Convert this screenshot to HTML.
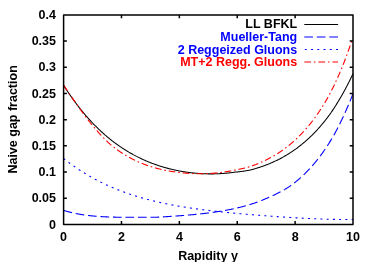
<!DOCTYPE html>
<html><head><meta charset="utf-8"><style>
html,body{margin:0;padding:0;background:#fff;}
svg{display:block;will-change:transform;}
text{font-family:"Liberation Sans",sans-serif;font-weight:bold;font-size:12.5px;fill:#000;}
</style></head><body>
<svg width="374" height="262" viewBox="0 0 374 262">
<rect width="374" height="262" fill="#fff"/>
<g fill="none" stroke-width="1.1">
<path d="M63.60,85.34 L64.08,86.10 L64.57,86.85 L65.05,87.60 L65.53,88.35 L66.02,89.09 L66.50,89.82 L66.98,90.55 L67.47,91.28 L67.95,92.00 L68.43,92.72 L68.91,93.43 L69.40,94.14 L69.88,94.84 L70.36,95.53 L70.85,96.23 L71.33,96.92 L71.81,97.60 L72.30,98.28 L72.78,98.95 L73.26,99.62 L73.75,100.29 L74.23,100.95 L74.71,101.61 L75.20,102.26 L75.68,102.91 L76.16,103.55 L76.64,104.19 L77.13,104.83 L77.61,105.46 L78.09,106.08 L78.58,106.71 L79.06,107.33 L79.54,107.94 L80.03,108.55 L80.51,109.16 L80.99,109.76 L81.48,110.35 L81.96,110.95 L82.44,111.54 L82.93,112.12 L83.41,112.70 L83.89,113.28 L84.37,113.85 L84.86,114.42 L85.34,114.99 L85.82,115.55 L86.31,116.11 L86.79,116.66 L87.27,117.21 L87.76,117.76 L88.24,118.30 L88.72,118.84 L89.21,119.37 L89.69,119.90 L90.17,120.43 L90.66,120.95 L91.14,121.47 L91.62,121.99 L92.11,122.50 L92.59,123.01 L93.07,123.52 L93.55,124.02 L94.04,124.52 L94.52,125.01 L95.00,125.50 L95.49,125.99 L95.97,126.47 L96.45,126.95 L96.94,127.43 L97.42,127.90 L97.90,128.37 L98.39,128.84 L98.87,129.30 L99.35,129.76 L99.84,130.22 L100.32,130.67 L100.80,131.12 L101.28,131.57 L101.77,132.01 L102.25,132.45 L102.73,132.89 L103.22,133.32 L103.70,133.75 L104.18,134.18 L104.67,134.60 L105.15,135.03 L105.63,135.44 L106.12,135.86 L106.60,136.27 L107.08,136.68 L107.57,137.08 L108.05,137.49 L108.53,137.88 L109.02,138.28 L109.50,138.67 L109.98,139.06 L110.46,139.45 L110.95,139.84 L111.43,140.22 L111.91,140.60 L112.40,140.97 L112.88,141.34 L113.36,141.71 L113.85,142.08 L114.33,142.45 L114.81,142.81 L115.30,143.17 L115.78,143.52 L116.26,143.87 L116.75,144.22 L117.23,144.57 L117.71,144.92 L118.19,145.26 L118.68,145.60 L119.16,145.94 L119.64,146.27 L120.13,146.60 L120.61,146.93 L121.09,147.26 L121.58,147.58 L122.06,147.90 L122.54,148.22 L123.03,148.53 L123.51,148.85 L123.99,149.16 L124.48,149.47 L124.96,149.77 L125.44,150.07 L125.92,150.37 L126.41,150.67 L126.89,150.97 L127.37,151.26 L127.86,151.55 L128.34,151.84 L128.82,152.13 L129.31,152.41 L129.79,152.69 L130.27,152.97 L130.76,153.25 L131.24,153.52 L131.72,153.79 L132.21,154.06 L132.69,154.33 L133.17,154.60 L133.66,154.86 L134.14,155.12 L134.62,155.38 L135.10,155.63 L135.59,155.89 L136.07,156.14 L136.55,156.39 L137.04,156.63 L137.52,156.88 L138.00,157.12 L138.49,157.36 L138.97,157.60 L139.45,157.84 L139.94,158.07 L140.42,158.30 L140.90,158.53 L141.39,158.76 L141.87,158.99 L142.35,159.21 L142.83,159.43 L143.32,159.65 L143.80,159.87 L144.28,160.09 L144.77,160.30 L145.25,160.51 L145.73,160.72 L146.22,160.93 L146.70,161.13 L147.18,161.34 L147.67,161.54 L148.15,161.74 L148.63,161.94 L149.12,162.13 L149.60,162.33 L150.08,162.52 L150.56,162.71 L151.05,162.90 L151.53,163.08 L152.01,163.27 L152.50,163.45 L152.98,163.63 L153.46,163.81 L153.95,163.99 L154.43,164.17 L154.91,164.34 L155.40,164.51 L155.88,164.68 L156.36,164.85 L156.85,165.02 L157.33,165.18 L157.81,165.34 L158.30,165.51 L158.78,165.66 L159.26,165.82 L159.74,165.98 L160.23,166.13 L160.71,166.29 L161.19,166.44 L161.68,166.59 L162.16,166.73 L162.64,166.88 L163.13,167.02 L163.61,167.17 L164.09,167.31 L164.58,167.45 L165.06,167.58 L165.54,167.72 L166.03,167.85 L166.51,167.99 L166.99,168.12 L167.47,168.25 L167.96,168.37 L168.44,168.50 L168.92,168.63 L169.41,168.75 L169.89,168.87 L170.37,168.99 L170.86,169.11 L171.34,169.23 L171.82,169.34 L172.31,169.45 L172.79,169.57 L173.27,169.68 L173.76,169.79 L174.24,169.89 L174.72,170.00 L175.21,170.10 L175.69,170.21 L176.17,170.31 L176.65,170.41 L177.14,170.51 L177.62,170.60 L178.10,170.70 L178.59,170.79 L179.07,170.89 L179.55,170.98 L180.04,171.07 L180.52,171.16 L181.00,171.24 L181.49,171.33 L181.97,171.41 L182.45,171.49 L182.94,171.57 L183.42,171.65 L183.90,171.73 L184.38,171.81 L184.87,171.88 L185.35,171.96 L185.83,172.03 L186.32,172.10 L186.80,172.17 L187.28,172.24 L187.77,172.30 L188.25,172.37 L188.73,172.43 L189.22,172.50 L189.70,172.56 L190.18,172.62 L190.67,172.68 L191.15,172.73 L191.63,172.79 L192.11,172.84 L192.60,172.89 L193.08,172.95 L193.56,173.00 L194.05,173.04 L194.53,173.09 L195.01,173.14 L195.50,173.18 L195.98,173.22 L196.46,173.27 L196.95,173.31 L197.43,173.35 L197.91,173.38 L198.40,173.42 L198.88,173.45 L199.36,173.49 L199.85,173.52 L200.33,173.55 L200.81,173.58 L201.29,173.61 L201.78,173.63 L202.26,173.66 L202.74,173.68 L203.23,173.71 L203.71,173.73 L204.19,173.75 L204.68,173.77 L205.16,173.78 L205.64,173.80 L206.13,173.81 L206.61,173.83 L207.09,173.84 L207.58,173.85 L208.06,173.86 L208.54,173.86 L209.02,173.87 L209.51,173.88 L209.99,173.88 L210.47,173.88 L210.96,173.88 L211.44,173.88 L211.92,173.88 L212.41,173.88 L212.89,173.87 L213.37,173.87 L213.86,173.86 L214.34,173.85 L214.82,173.84 L215.31,173.83 L215.79,173.82 L216.27,173.80 L216.75,173.79 L217.24,173.77 L217.72,173.75 L218.20,173.73 L218.69,173.71 L219.17,173.69 L219.65,173.66 L220.14,173.64 L220.62,173.61 L221.10,173.58 L221.59,173.55 L222.07,173.52 L222.55,173.49 L223.04,173.45 L223.52,173.42 L224.00,173.38 L224.49,173.34 L224.97,173.30 L225.45,173.26 L225.93,173.22 L226.42,173.18 L226.90,173.13 L227.38,173.09 L227.87,173.04 L228.35,172.99 L228.83,172.94 L229.32,172.88 L229.80,172.83 L230.28,172.77 L230.77,172.72 L231.25,172.66 L231.73,172.60 L232.22,172.54 L232.70,172.47 L233.18,172.41 L233.66,172.34 L234.15,172.28 L234.63,172.21 L235.11,172.14 L235.60,172.10 L236.08,172.06 L236.56,172.01 L237.05,171.96 L237.53,171.91 L238.01,171.86 L238.50,171.81 L238.98,171.76 L239.46,171.70 L239.95,171.64 L240.43,171.58 L240.91,171.52 L241.39,171.46 L241.88,171.40 L242.36,171.33 L242.84,171.27 L243.33,171.20 L243.81,171.13 L244.29,171.06 L244.78,170.98 L245.26,170.91 L245.74,170.83 L246.23,170.75 L246.71,170.67 L247.19,170.59 L247.68,170.51 L248.16,170.42 L248.64,170.34 L249.13,170.25 L249.61,170.16 L250.09,170.06 L250.57,169.94 L251.06,169.81 L251.54,169.69 L252.02,169.56 L252.51,169.43 L252.99,169.29 L253.47,169.16 L253.96,169.02 L254.44,168.89 L254.92,168.75 L255.41,168.61 L255.89,168.46 L256.37,168.32 L256.86,168.17 L257.34,168.02 L257.82,167.87 L258.30,167.72 L258.79,167.56 L259.27,167.41 L259.75,167.25 L260.24,167.09 L260.72,166.93 L261.20,166.76 L261.69,166.60 L262.17,166.43 L262.65,166.26 L263.14,166.09 L263.62,165.91 L264.10,165.74 L264.59,165.56 L265.07,165.38 L265.55,165.20 L266.04,165.01 L266.52,164.83 L267.00,164.64 L267.48,164.45 L267.97,164.26 L268.45,164.06 L268.93,163.87 L269.42,163.67 L269.90,163.46 L270.38,163.26 L270.87,163.06 L271.35,162.85 L271.83,162.64 L272.32,162.42 L272.80,162.21 L273.28,161.99 L273.77,161.77 L274.25,161.55 L274.73,161.33 L275.21,161.10 L275.70,160.87 L276.18,160.64 L276.66,160.41 L277.15,160.17 L277.63,159.93 L278.11,159.69 L278.60,159.45 L279.08,159.20 L279.56,158.95 L280.05,158.70 L280.53,158.44 L281.01,158.19 L281.50,157.93 L281.98,157.67 L282.46,157.40 L282.94,157.13 L283.43,156.86 L283.91,156.59 L284.39,156.32 L284.88,156.04 L285.36,155.76 L285.84,155.47 L286.33,155.18 L286.81,154.90 L287.29,154.60 L287.78,154.31 L288.26,154.01 L288.74,153.71 L289.23,153.40 L289.71,153.09 L290.19,152.78 L290.68,152.47 L291.16,152.15 L291.64,151.83 L292.12,151.51 L292.61,151.18 L293.09,150.85 L293.57,150.52 L294.06,150.18 L294.54,149.84 L295.02,149.50 L295.51,149.16 L295.99,148.81 L296.47,148.45 L296.96,148.10 L297.44,147.74 L297.92,147.37 L298.41,147.01 L298.89,146.64 L299.37,146.26 L299.85,145.89 L300.34,145.51 L300.82,145.13 L301.30,144.74 L301.79,144.36 L302.27,143.96 L302.75,143.57 L303.24,143.17 L303.72,142.77 L304.20,142.36 L304.69,141.95 L305.17,141.53 L305.65,141.11 L306.14,140.69 L306.62,140.27 L307.10,139.83 L307.58,139.40 L308.07,138.96 L308.55,138.52 L309.03,138.07 L309.52,137.62 L310.00,137.16 L310.48,136.70 L310.97,136.24 L311.45,135.77 L311.93,135.30 L312.42,134.82 L312.90,134.34 L313.38,133.85 L313.87,133.36 L314.35,132.86 L314.83,132.36 L315.32,131.86 L315.80,131.35 L316.28,130.83 L316.76,130.31 L317.25,129.79 L317.73,129.26 L318.21,128.73 L318.70,128.19 L319.18,127.65 L319.66,127.10 L320.15,126.54 L320.63,125.99 L321.11,125.42 L321.60,124.85 L322.08,124.28 L322.56,123.70 L323.05,123.12 L323.53,122.53 L324.01,121.93 L324.49,121.33 L324.98,120.73 L325.46,120.12 L325.94,119.50 L326.43,118.88 L326.91,118.25 L327.39,117.62 L327.88,116.98 L328.36,116.33 L328.84,115.68 L329.33,115.03 L329.81,114.36 L330.29,113.68 L330.78,112.99 L331.26,112.28 L331.74,111.58 L332.23,110.86 L332.71,110.14 L333.19,109.41 L333.67,108.68 L334.16,107.94 L334.64,107.20 L335.12,106.45 L335.61,105.69 L336.09,104.92 L336.57,104.15 L337.06,103.38 L337.54,102.59 L338.02,101.80 L338.51,101.01 L338.99,100.20 L339.47,99.39 L339.96,98.58 L340.44,97.75 L340.92,96.92 L341.40,96.08 L341.89,95.24 L342.37,94.39 L342.85,93.53 L343.34,92.66 L343.82,91.79 L344.30,90.91 L344.79,90.02 L345.27,89.13 L345.75,88.22 L346.24,87.31 L346.72,86.38 L347.20,85.46 L347.69,84.52 L348.17,83.58 L348.65,82.62 L349.13,81.66 L349.62,80.70 L350.10,79.72 L350.58,78.74 L351.07,77.75 L351.55,76.75 L352.03,75.74 L352.52,74.73 L353.00,73.71" stroke="#000" stroke-width="1.05"/>
<path d="M63.60,210.33 L64.08,210.48 L64.57,210.62 L65.05,210.77 L65.53,210.91 L66.02,211.05 L66.50,211.19 L66.98,211.33 L67.47,211.46 L67.95,211.60 L68.43,211.73 L68.91,211.86 L69.40,211.98 L69.88,212.11 L70.36,212.23 L70.85,212.35 L71.33,212.47 L71.81,212.59 L71.99,212.63 M75.69,213.47 L76.16,213.57 L76.64,213.67 L77.13,213.77 L77.61,213.87 L78.09,213.96 L78.58,214.05 L79.06,214.15 L79.54,214.24 L80.03,214.33 L80.51,214.40 L80.99,214.48 L81.48,214.56 L81.96,214.64 L82.44,214.71 L82.93,214.78 L83.41,214.85 L83.89,214.92 L84.26,214.97 M88.03,215.46 L88.24,215.48 L88.72,215.54 L89.21,215.59 L89.69,215.65 L90.17,215.70 L90.66,215.75 L91.14,215.80 L91.62,215.84 L92.11,215.89 L92.59,215.94 L93.07,215.98 L93.55,216.02 L94.04,216.07 L94.52,216.11 L95.00,216.15 L95.49,216.19 L95.97,216.22 L96.45,216.26 L96.69,216.28 M100.48,216.53 L100.80,216.55 L101.28,216.58 L101.77,216.62 L102.25,216.65 L102.73,216.68 L103.22,216.71 L103.70,216.74 L104.18,216.76 L104.67,216.79 L105.15,216.82 L105.63,216.84 L106.12,216.87 L106.60,216.89 L107.08,216.91 L107.57,216.93 L108.05,216.95 L108.53,216.97 L109.02,216.99 L109.17,217.00 M112.97,217.12 L113.36,217.13 L113.85,217.14 L114.33,217.15 L114.81,217.16 L115.30,217.17 L115.78,217.18 L116.26,217.19 L116.75,217.19 L117.23,217.20 L117.71,217.21 L118.19,217.21 L118.68,217.22 L119.16,217.22 L119.64,217.23 L120.13,217.23 L120.61,217.23 L121.09,217.23 L121.58,217.23 L121.67,217.23 M125.47,217.23 L125.92,217.24 L126.41,217.25 L126.89,217.25 L127.37,217.26 L127.86,217.26 L128.34,217.26 L128.82,217.27 L129.31,217.27 L129.79,217.27 L130.27,217.27 L130.76,217.28 L131.24,217.28 L131.72,217.28 L132.21,217.28 L132.69,217.28 L133.17,217.28 L133.66,217.28 L134.14,217.27 L134.17,217.27 M137.96,217.25 L138.00,217.25 L138.49,217.25 L138.97,217.24 L139.45,217.24 L139.94,217.23 L140.42,217.24 L140.90,217.24 L141.39,217.25 L141.87,217.25 L142.35,217.26 L142.83,217.26 L143.32,217.27 L143.80,217.27 L144.28,217.28 L144.77,217.28 L145.25,217.29 L145.73,217.29 L146.22,217.29 L146.66,217.30 M150.46,217.31 L150.56,217.31 L151.05,217.31 L151.53,217.31 L152.01,217.31 L152.50,217.31 L152.98,217.31 L153.46,217.31 L153.95,217.31 L154.43,217.31 L154.91,217.31 L155.40,217.29 L155.88,217.26 L156.36,217.24 L156.85,217.21 L157.33,217.19 L157.81,217.16 L158.30,217.13 L158.78,217.11 L159.16,217.09 M162.95,216.87 L163.13,216.86 L163.61,216.83 L164.09,216.80 L164.58,216.77 L165.06,216.74 L165.54,216.71 L166.03,216.68 L166.51,216.65 L166.99,216.62 L167.47,216.59 L167.96,216.56 L168.44,216.53 L168.92,216.50 L169.41,216.47 L169.89,216.44 L170.37,216.40 L170.86,216.37 L171.34,216.34 L171.64,216.32 M175.43,216.06 L175.69,216.04 L176.17,216.01 L176.65,215.97 L177.14,215.94 L177.62,215.90 L178.10,215.87 L178.59,215.83 L179.07,215.80 L179.55,215.76 L180.04,215.72 L180.52,215.69 L181.00,215.65 L181.49,215.61 L181.97,215.58 L182.45,215.54 L182.94,215.50 L183.42,215.46 L183.90,215.42 L184.10,215.41 M187.89,215.10 L188.25,215.07 L188.73,215.02 L189.22,214.98 L189.70,214.94 L190.18,214.90 L190.67,214.86 L191.15,214.81 L191.63,214.77 L192.11,214.73 L192.60,214.68 L193.08,214.64 L193.56,214.59 L194.05,214.55 L194.53,214.50 L195.01,214.46 L195.50,214.41 L195.98,214.36 L196.46,214.32 L196.55,214.31 M200.33,213.92 L200.81,213.87 L201.29,213.82 L201.78,213.76 L202.26,213.71 L202.74,213.65 L203.23,213.60 L203.71,213.54 L204.19,213.48 L204.68,213.42 L205.16,213.37 L205.64,213.31 L206.13,213.25 L206.61,213.19 L207.09,213.13 L207.58,213.07 L208.06,213.01 L208.54,212.95 L208.97,212.89 M212.74,212.38 L212.89,212.36 L213.37,212.29 L213.86,212.23 L214.34,212.16 L214.82,212.09 L215.31,212.02 L215.79,211.95 L216.27,211.87 L216.75,211.80 L217.24,211.73 L217.72,211.65 L218.20,211.58 L218.69,211.50 L219.17,211.43 L219.65,211.35 L220.14,211.27 L220.62,211.19 L221.10,211.12 L221.34,211.08 M225.08,210.43 L225.45,210.36 L225.93,210.28 L226.42,210.19 L226.90,210.10 L227.38,210.01 L227.87,209.92 L228.35,209.82 L228.83,209.73 L229.32,209.64 L229.80,209.54 L230.28,209.44 L230.77,209.35 L231.25,209.25 L231.73,209.15 L232.22,209.05 L232.70,208.95 L233.18,208.85 L233.62,208.75 M237.33,207.92 L237.53,207.87 L238.01,207.76 L238.50,207.64 L238.98,207.53 L239.46,207.41 L239.95,207.29 L240.43,207.17 L240.91,207.05 L241.39,206.93 L241.88,206.80 L242.36,206.68 L242.84,206.55 L243.33,206.42 L243.81,206.29 L244.29,206.16 L244.78,206.03 L245.26,205.90 L245.74,205.76 L245.75,205.76 M249.40,204.69 L249.61,204.63 L250.09,204.48 L250.57,204.33 L251.06,204.18 L251.54,204.03 L252.02,203.87 L252.51,203.71 L252.99,203.56 L253.47,203.40 L253.96,203.24 L254.44,203.07 L254.92,202.91 L255.41,202.74 L255.89,202.57 L256.37,202.40 L256.86,202.23 L257.34,202.06 L257.65,201.94 M261.21,200.60 L261.69,200.41 L262.17,200.22 L262.65,200.02 L263.14,199.83 L263.62,199.63 L264.10,199.43 L264.59,199.22 L265.07,199.02 L265.55,198.81 L266.04,198.60 L266.52,198.39 L267.00,198.18 L267.48,197.96 L267.97,197.74 L268.45,197.52 L268.93,197.30 L269.20,197.18 M272.68,195.65 L272.80,195.60 L273.28,195.38 L273.77,195.16 L274.25,194.94 L274.73,194.72 L275.21,194.49 L275.70,194.26 L276.18,194.03 L276.66,193.80 L277.15,193.56 L277.63,193.32 L278.11,193.08 L278.60,192.83 L279.08,192.58 L279.56,192.33 L280.05,192.08 L280.50,191.84 M283.82,189.99 L283.91,189.94 L284.39,189.65 L284.88,189.37 L285.36,189.08 L285.84,188.79 L286.33,188.50 L286.81,188.20 L287.29,187.90 L287.78,187.59 L288.26,187.28 L288.74,186.97 L289.23,186.66 L289.71,186.34 L290.19,186.01 L290.68,185.66 L291.15,185.31 M294.19,183.02 L294.54,182.74 L295.02,182.36 L295.51,181.98 L295.99,181.59 L296.47,181.19 L296.96,180.79 L297.44,180.39 L297.92,179.99 L298.41,179.58 L298.89,179.16 L299.37,178.74 L299.85,178.32 L300.34,177.89 L300.82,177.46 L300.85,177.43 M303.64,174.85 L303.72,174.78 L304.20,174.31 L304.69,173.84 L305.17,173.37 L305.65,172.89 L306.14,172.41 L306.62,171.92 L307.10,171.43 L307.58,170.93 L308.07,170.43 L308.55,169.92 L309.03,169.41 L309.52,168.89 L309.74,168.65 M312.28,165.83 L312.42,165.68 L312.90,165.12 L313.38,164.56 L313.87,164.00 L314.35,163.43 L314.83,162.85 L315.32,162.27 L315.80,161.68 L316.28,161.08 L316.76,160.48 L317.25,159.88 L317.73,159.27 L317.84,159.13 M320.15,156.12 L320.63,155.47 L321.11,154.82 L321.60,154.15 L322.08,153.49 L322.56,152.81 L323.05,152.13 L323.53,151.45 L324.01,150.76 L324.49,150.06 L324.98,149.35 L325.19,149.03 M327.30,145.86 L327.39,145.72 L327.88,144.97 L328.36,144.22 L328.84,143.45 L329.33,142.69 L329.81,141.91 L330.29,141.13 L330.78,140.34 L331.26,139.54 L331.74,138.74 L331.89,138.48 M333.81,135.20 L334.16,134.60 L334.64,133.75 L335.12,132.88 L335.61,131.98 L336.09,131.07 L336.57,130.15 L337.06,129.23 L337.54,128.29 L337.93,127.53 M339.64,124.14 L339.96,123.50 L340.44,122.52 L340.92,121.53 L341.40,120.53 L341.89,119.52 L342.37,118.50 L342.85,117.47 L343.34,116.44 L343.40,116.30 M344.98,112.84 L345.27,112.21 L345.75,111.13 L346.24,110.04 L346.72,108.94 L347.20,107.84 L347.69,106.72 L348.17,105.59 L348.48,104.87 M349.95,101.37 L350.10,101.01 L350.58,99.84 L351.07,98.66 L351.55,97.47 L352.03,96.27 L352.52,95.06 L353.00,93.84" stroke="#0000ff"/>
<path d="M63.60,158.51 L64.08,158.90 L64.57,159.27 L65.05,159.65 L65.17,159.75 M68.55,162.32 L68.91,162.59 L69.40,162.95 L69.88,163.30 L70.16,163.50 M73.60,165.97 L73.75,166.07 L74.23,166.41 L74.71,166.74 L75.20,167.08 L75.25,167.11 M78.77,169.48 L79.06,169.67 L79.54,169.99 L80.03,170.30 L80.44,170.57 M84.03,172.83 L84.37,173.04 L84.86,173.34 L85.34,173.63 L85.74,173.87 M89.39,176.03 L89.69,176.20 L90.17,176.48 L90.66,176.75 L91.13,177.02 M94.84,179.06 L95.00,179.15 L95.49,179.41 L95.97,179.66 L96.45,179.92 L96.61,180.00 M100.38,181.93 L100.80,182.14 L101.28,182.38 L101.77,182.62 L102.17,182.82 M106.00,184.64 L106.12,184.69 L106.60,184.92 L107.08,185.14 L107.57,185.36 L107.82,185.47 M111.70,187.19 L111.91,187.28 L112.40,187.49 L112.88,187.69 L113.36,187.90 L113.54,187.97 M117.46,189.58 L117.71,189.68 L118.19,189.87 L118.68,190.06 L119.16,190.25 L119.32,190.31 M123.29,191.81 L123.51,191.89 L123.99,192.07 L124.48,192.25 L124.96,192.42 L125.17,192.49 M129.17,193.89 L129.31,193.94 L129.79,194.10 L130.27,194.27 L130.76,194.43 L131.07,194.53 M135.10,195.83 L135.10,195.83 L135.59,195.98 L136.07,196.13 L136.55,196.28 L137.01,196.42 M141.08,197.63 L141.39,197.72 L141.87,197.85 L142.35,197.99 L142.83,198.13 L143.00,198.18 M147.09,199.29 L147.18,199.32 L147.67,199.44 L148.15,199.57 L148.63,199.70 L149.03,199.80 M153.14,200.83 L153.46,200.91 L153.95,201.03 L154.43,201.15 L154.91,201.26 L155.08,201.30 M159.21,202.26 L159.26,202.27 L159.74,202.38 L160.23,202.48 L160.71,202.59 L161.17,202.69 M165.31,203.57 L165.54,203.62 L166.03,203.72 L166.51,203.82 L166.99,203.92 L167.27,203.97 M171.43,204.79 L171.82,204.86 L172.31,204.95 L172.79,205.04 L173.27,205.13 L173.40,205.16 M177.57,205.91 L177.62,205.92 L178.10,206.00 L178.59,206.09 L179.07,206.17 L179.54,206.25 M183.72,206.95 L183.90,206.98 L184.38,207.05 L184.87,207.13 L185.35,207.21 L185.70,207.26 M189.89,207.91 L190.18,207.95 L190.67,208.02 L191.15,208.10 L191.63,208.17 L191.87,208.20 M196.07,208.80 L196.46,208.86 L196.95,208.92 L197.43,208.99 L197.91,209.05 L198.05,209.07 M202.25,209.63 L202.26,209.63 L202.74,209.69 L203.23,209.76 L203.71,209.82 L204.19,209.88 L204.23,209.88 M208.44,210.40 L208.54,210.42 L209.02,210.47 L209.51,210.53 L209.99,210.59 L210.43,210.64 M214.64,211.13 L214.82,211.15 L215.31,211.20 L215.79,211.26 L216.27,211.31 L216.63,211.35 M220.84,211.81 L221.10,211.84 L221.59,211.89 L222.07,211.94 L222.55,211.99 L222.83,212.02 M227.05,212.45 L227.38,212.48 L227.87,212.53 L228.35,212.58 L228.83,212.63 L229.04,212.65 M233.26,213.06 L233.66,213.10 L234.15,213.14 L234.63,213.19 L235.11,213.23 L235.25,213.25 M239.47,213.63 L239.95,213.68 L240.43,213.72 L240.91,213.76 L241.39,213.81 L241.47,213.81 M245.69,214.18 L245.74,214.19 L246.23,214.23 L246.71,214.27 L247.19,214.31 L247.68,214.35 L247.68,214.35 M251.91,214.71 L252.02,214.72 L252.51,214.75 L252.99,214.79 L253.47,214.83 L253.90,214.87 M258.13,215.21 L258.30,215.22 L258.79,215.26 L259.27,215.30 L259.75,215.33 L260.12,215.36 M264.35,215.69 L264.59,215.70 L265.07,215.74 L265.55,215.78 L266.04,215.81 L266.34,215.84 M270.57,216.15 L270.87,216.17 L271.35,216.20 L271.83,216.24 L272.32,216.27 L272.57,216.29 M276.80,216.58 L277.15,216.61 L277.63,216.64 L278.11,216.68 L278.60,216.71 L278.79,216.72 M283.02,217.00 L283.43,217.03 L283.91,217.06 L284.39,217.09 L284.88,217.12 L285.02,217.13 M289.25,217.40 L289.71,217.43 L290.19,217.46 L290.68,217.49 L291.16,217.52 L291.25,217.52 M295.48,217.77 L295.51,217.78 L295.99,217.80 L296.47,217.83 L296.96,217.86 L297.44,217.89 L297.48,217.89 M301.71,218.12 L301.79,218.13 L302.27,218.15 L302.75,218.18 L303.24,218.20 L303.71,218.23 M307.94,218.44 L308.07,218.45 L308.55,218.47 L309.03,218.50 L309.52,218.52 L309.94,218.54 M314.17,218.73 L314.35,218.74 L314.83,218.76 L315.32,218.78 L315.80,218.80 L316.17,218.82 M320.41,218.98 L320.63,218.99 L321.11,219.01 L321.60,219.03 L322.08,219.04 L322.41,219.06 M326.65,219.19 L326.91,219.20 L327.39,219.22 L327.88,219.23 L328.36,219.24 L328.64,219.25 M332.88,219.36 L333.19,219.37 L333.67,219.38 L334.16,219.39 L334.64,219.40 L334.88,219.40 M339.12,219.47 L339.47,219.48 L339.96,219.48 L340.44,219.49 L340.92,219.49 L341.12,219.49 M345.36,219.52 L345.75,219.53 L346.24,219.53 L346.72,219.53 L347.20,219.53 L347.36,219.53 M351.60,219.51 L352.03,219.51 L352.52,219.50 L353.00,219.50" stroke="#0000ff"/>
<path d="M63.60,85.19 L64.08,85.87 L64.56,86.56 L65.04,87.25 L65.52,87.94 L66.00,88.63 L66.48,89.33 L66.97,90.03 L67.42,90.69 M69.06,93.08 L69.37,93.53 L69.85,94.24 L69.96,94.40 M71.57,96.76 L71.77,97.06 L72.25,97.76 L72.74,98.47 L73.22,99.17 L73.70,99.88 L74.18,100.58 L74.66,101.28 L75.14,101.98 L75.35,102.29 M77.00,104.67 L77.06,104.76 L77.54,105.46 L77.91,105.99 M79.55,108.32 L79.95,108.88 L80.43,109.56 L80.91,110.23 L81.39,110.90 L81.87,111.57 L82.35,112.24 L82.83,112.90 L83.31,113.56 L83.46,113.76 M85.19,116.09 L85.24,116.16 L85.72,116.80 L86.15,117.37 M87.88,119.63 L88.12,119.95 L88.60,120.56 L89.08,121.17 L89.56,121.78 L90.04,122.39 L90.52,122.99 L91.01,123.58 L91.49,124.17 L91.97,124.76 L92.06,124.87 M93.92,127.09 L94.37,127.62 L94.85,128.17 L94.96,128.31 M96.80,130.48 L97.26,131.01 L97.74,131.57 L98.22,132.12 L98.70,132.66 L99.18,133.20 L99.66,133.74 L100.14,134.27 L100.62,134.80 L101.10,135.32 L101.26,135.49 M103.25,137.59 L103.51,137.85 L103.99,138.35 L104.37,138.74 M106.39,140.74 L106.87,141.21 L107.35,141.67 L107.83,142.12 L108.31,142.58 L108.80,143.02 L109.28,143.47 L109.76,143.91 L110.24,144.33 L110.72,144.73 L111.20,145.13 L111.35,145.25 M113.61,147.06 L114.08,147.43 L114.56,147.80 L114.88,148.04 M117.17,149.74 L117.45,149.94 L117.93,150.28 L118.41,150.62 L118.89,150.96 L119.37,151.29 L119.85,151.62 L120.33,151.94 L120.82,152.26 L121.30,152.58 L121.78,152.90 L122.26,153.21 L122.71,153.50 M125.18,155.03 L125.62,155.30 L126.10,155.58 L126.55,155.84 M129.03,157.25 L129.47,157.49 L129.95,157.75 L130.43,158.01 L130.91,158.27 L131.39,158.52 L131.87,158.77 L132.35,159.02 L132.84,159.26 L133.32,159.50 L133.80,159.74 L134.28,159.98 L134.76,160.21 L134.99,160.32 M137.62,161.54 L137.64,161.55 L138.12,161.77 L138.61,161.98 L139.08,162.19 M141.71,163.29 L141.97,163.40 L142.45,163.59 L142.93,163.78 L143.41,163.97 L143.89,164.16 L144.37,164.34 L144.86,164.53 L145.34,164.71 L145.82,164.88 L146.30,165.06 L146.78,165.23 L147.26,165.40 L147.74,165.57 L147.98,165.65 M150.73,166.57 L151.11,166.69 L151.59,166.84 L152.07,166.98 L152.26,167.04 M154.99,167.84 L155.43,167.96 L155.91,168.09 L156.39,168.22 L156.88,168.35 L157.36,168.47 L157.84,168.60 L158.32,168.72 L158.80,168.84 L159.28,168.96 L159.76,169.08 L160.24,169.19 L160.72,169.31 L161.20,169.42 L161.49,169.48 M164.32,170.10 L164.57,170.16 L165.05,170.25 L165.53,170.35 L165.89,170.42 M168.69,170.95 L168.90,170.99 L169.38,171.07 L169.86,171.15 L170.34,171.23 L170.82,171.31 L171.30,171.39 L171.78,171.47 L172.26,171.54 L172.74,171.62 L173.22,171.69 L173.70,171.76 L174.18,171.83 L174.67,171.90 L175.15,171.96 L175.31,171.98 M178.18,172.35 L178.51,172.38 L178.99,172.44 L179.47,172.49 L179.77,172.52 M182.61,172.83 L182.84,172.86 L183.32,172.91 L183.80,172.95 L184.28,173.00 L184.76,173.04 L185.24,173.08 L185.72,173.13 L186.20,173.16 L186.69,173.20 L187.17,173.24 L187.65,173.28 L188.13,173.31 L188.61,173.34 L189.09,173.37 L189.28,173.39 M192.18,173.54 L192.45,173.55 L192.94,173.58 L193.42,173.59 L193.78,173.61 M196.63,173.69 L196.78,173.69 L197.26,173.70 L197.74,173.71 L198.22,173.71 L198.71,173.72 L199.19,173.72 L199.67,173.72 L200.15,173.72 L200.63,173.72 L201.11,173.72 L201.59,173.72 L202.07,173.71 L202.55,173.70 L203.03,173.70 L203.33,173.69 M206.23,173.61 L206.40,173.61 L206.88,173.59 L207.36,173.57 L207.82,173.55 M210.67,173.39 L210.73,173.39 L211.21,173.36 L211.69,173.33 L212.17,173.30 L212.65,173.26 L213.13,173.22 L213.61,173.19 L214.09,173.15 L214.57,173.11 L215.05,173.07 L215.53,173.02 L216.01,172.98 L216.49,172.93 L216.98,172.89 L217.35,172.85 M220.23,172.53 L220.34,172.51 L220.82,172.46 L221.30,172.40 L221.78,172.33 L221.82,172.33 M224.64,171.94 L224.67,171.93 L225.15,171.86 L225.63,171.79 L226.11,171.71 L226.59,171.64 L227.07,171.56 L227.55,171.48 L228.03,171.40 L228.51,171.31 L229.00,171.23 L229.48,171.14 L229.96,171.06 L230.44,170.97 L230.92,170.88 L231.24,170.81 M234.09,170.24 L234.28,170.20 L234.77,170.09 L235.25,170.00 L235.66,169.93 M238.46,169.40 L238.61,169.37 L239.09,169.28 L239.57,169.18 L240.05,169.08 L240.53,168.98 L241.02,168.87 L241.50,168.77 L241.98,168.66 L242.46,168.55 L242.94,168.44 L243.42,168.33 L243.90,168.22 L244.38,168.10 L244.86,167.98 L245.00,167.95 M247.80,167.22 L248.23,167.10 L248.71,166.97 L249.19,166.84 L249.35,166.79 M252.05,165.90 L252.07,165.89 L252.55,165.72 L253.04,165.54 L253.52,165.37 L254.00,165.19 L254.48,165.01 L254.96,164.83 L255.44,164.64 L255.92,164.46 L256.40,164.27 L256.88,164.08 L257.36,163.89 L257.84,163.69 L258.31,163.50 M260.98,162.37 L261.21,162.26 L261.69,162.05 L262.17,161.83 L262.44,161.71 M265.02,160.51 L265.06,160.49 L265.54,160.26 L266.02,160.02 L266.50,159.79 L266.98,159.55 L267.46,159.30 L267.94,159.06 L268.42,158.81 L268.90,158.56 L269.38,158.31 L269.86,158.05 L270.34,157.79 L270.83,157.53 L270.98,157.45 M273.50,156.02 L273.71,155.90 L274.19,155.62 L274.67,155.33 L274.88,155.21 M277.31,153.72 L277.56,153.56 L278.04,153.26 L278.52,152.95 L279.00,152.63 L279.48,152.32 L279.96,152.00 L280.44,151.68 L280.92,151.35 L281.40,151.02 L281.88,150.69 L282.36,150.35 L282.85,150.01 L282.88,149.99 M285.22,148.28 L285.25,148.26 L285.73,147.90 L286.21,147.54 L286.50,147.32 M288.74,145.56 L289.10,145.27 L289.58,144.88 L290.06,144.48 L290.54,144.08 L291.02,143.68 L291.50,143.27 L291.98,142.86 L292.46,142.44 L292.94,142.02 L293.42,141.60 L293.84,141.22 M295.98,139.26 L296.31,138.96 L296.79,138.50 L297.14,138.16 M299.18,136.16 L299.19,136.15 L299.67,135.66 L300.15,135.18 L300.64,134.69 L301.12,134.19 L301.60,133.69 L302.08,133.19 L302.56,132.68 L303.04,132.17 L303.52,131.65 L303.81,131.33 M305.75,129.17 L305.92,128.97 L306.40,128.42 L306.80,127.96 M308.64,125.78 L308.81,125.58 L309.29,124.99 L309.77,124.40 L310.25,123.80 L310.73,123.20 L311.21,122.59 L311.69,121.98 L312.17,121.36 L312.66,120.73 L312.80,120.54 M314.54,118.21 L314.58,118.16 L315.06,117.50 L315.48,116.92 M317.13,114.59 L317.46,114.11 L317.94,113.41 L318.42,112.71 L318.91,112.00 L319.39,111.28 L319.87,110.56 L320.35,109.82 L320.83,109.08 L320.86,109.03 M322.42,106.59 L322.75,106.05 L323.23,105.28 L323.26,105.23 M324.74,102.79 L325.16,102.10 L325.64,101.28 L326.12,100.46 L326.60,99.63 L327.08,98.79 L327.56,97.94 L328.04,97.09 L328.09,96.99 M329.49,94.45 L329.96,93.58 L330.25,93.04 M331.55,90.50 L331.89,89.82 L332.37,88.86 L332.85,87.89 L333.33,86.91 L333.81,85.92 L334.29,84.92 L334.50,84.49 M335.73,81.86 L336.21,80.82 L336.40,80.41 M337.58,77.81 L337.66,77.65 L338.14,76.56 L338.62,75.47 L339.10,74.37 L339.58,73.26 L340.06,72.13 L340.26,71.67 M341.38,69.00 L341.50,68.70 L341.98,67.53 L341.99,67.52 M343.06,64.88 L343.43,63.95 L343.91,62.73 L344.39,61.50 L344.87,60.26 L345.35,59.00 L345.49,58.63 M346.50,55.92 L346.79,55.13 L347.05,54.41 M348.02,51.73 L348.23,51.14 L348.72,49.78 L349.20,48.41 L349.68,47.03 L350.16,45.63 L350.23,45.41 M351.16,42.66 L351.60,41.35" stroke="#ff0000"/>
</g>
<g fill="none" stroke-width="1">
<path d="M304.30,24.50 L338.10,24.50" stroke="#000"/>
<path d="M304.30,37.00 L313.00,37.00 M316.80,37.00 L325.50,37.00 M329.30,37.00 L338.00,37.00" stroke="#0000ff"/>
<path d="M304.80,49.50 L306.80,49.50 M311.04,49.50 L313.04,49.50 M317.28,49.50 L319.28,49.50 M323.52,49.50 L325.52,49.50 M329.76,49.50 L331.76,49.50 M336.00,49.50 L338.00,49.50" stroke="#0000ff"/>
<path d="M304.30,62.00 L311.00,62.00 M313.90,62.00 L315.50,62.00 M318.35,62.00 L325.05,62.00 M327.95,62.00 L329.55,62.00 M332.40,62.00 L338.10,62.00" stroke="#ff0000"/>
</g>
<g stroke="#000" stroke-width="1.5" fill="none" stroke-linejoin="round">
<rect x="63.6" y="14.9" width="289.4" height="209.5"/>
<path d="M63.6,198.21 h3.3 M353.0,198.21 h-3.3"/><path d="M63.6,172.03 h3.3 M353.0,172.03 h-3.3"/><path d="M63.6,145.84 h3.3 M353.0,145.84 h-3.3"/><path d="M63.6,119.65 h3.3 M353.0,119.65 h-3.3"/><path d="M63.6,93.46 h3.3 M353.0,93.46 h-3.3"/><path d="M63.6,67.27 h3.3 M353.0,67.27 h-3.3"/><path d="M63.6,41.09 h3.3 M353.0,41.09 h-3.3"/><path d="M121.48,224.4 v-3.3 M121.48,14.9 v3.3"/><path d="M179.36,224.4 v-3.3 M179.36,14.9 v3.3"/><path d="M237.24,224.4 v-3.3 M237.24,14.9 v3.3"/><path d="M295.12,224.4 v-3.3 M295.12,14.9 v3.3"/>
</g>
<text x="56.0" y="228.60" text-anchor="end">0</text><text x="56.0" y="202.41" text-anchor="end">0.05</text><text x="56.0" y="176.22" text-anchor="end">0.1</text><text x="56.0" y="150.04" text-anchor="end">0.15</text><text x="56.0" y="123.85" text-anchor="end">0.2</text><text x="56.0" y="97.66" text-anchor="end">0.25</text><text x="56.0" y="71.47" text-anchor="end">0.3</text><text x="56.0" y="45.29" text-anchor="end">0.35</text><text x="56.0" y="19.10" text-anchor="end">0.4</text>
<text x="63.60" y="241.2" text-anchor="middle">0</text><text x="121.48" y="241.2" text-anchor="middle">2</text><text x="179.36" y="241.2" text-anchor="middle">4</text><text x="237.24" y="241.2" text-anchor="middle">6</text><text x="295.12" y="241.2" text-anchor="middle">8</text><text x="353.00" y="241.2" text-anchor="middle">10</text>
<text x="297.2" y="27.9" text-anchor="end">LL BFKL</text>
<text x="297.2" y="41.1" text-anchor="end" style="fill:#0000ff">Mueller-Tang</text>
<text x="297.2" y="53.6" text-anchor="end" style="fill:#0000ff">2 Reggeized Gluons</text>
<text x="297.2" y="66" text-anchor="end" style="fill:#ff0000">MT+2 Regg. Gluons</text>
<text x="208" y="259.5" text-anchor="middle">Rapidity y</text>
<text transform="translate(17,119.4) rotate(-90)" text-anchor="middle">Naive gap fraction</text>
</svg>
</body></html>
